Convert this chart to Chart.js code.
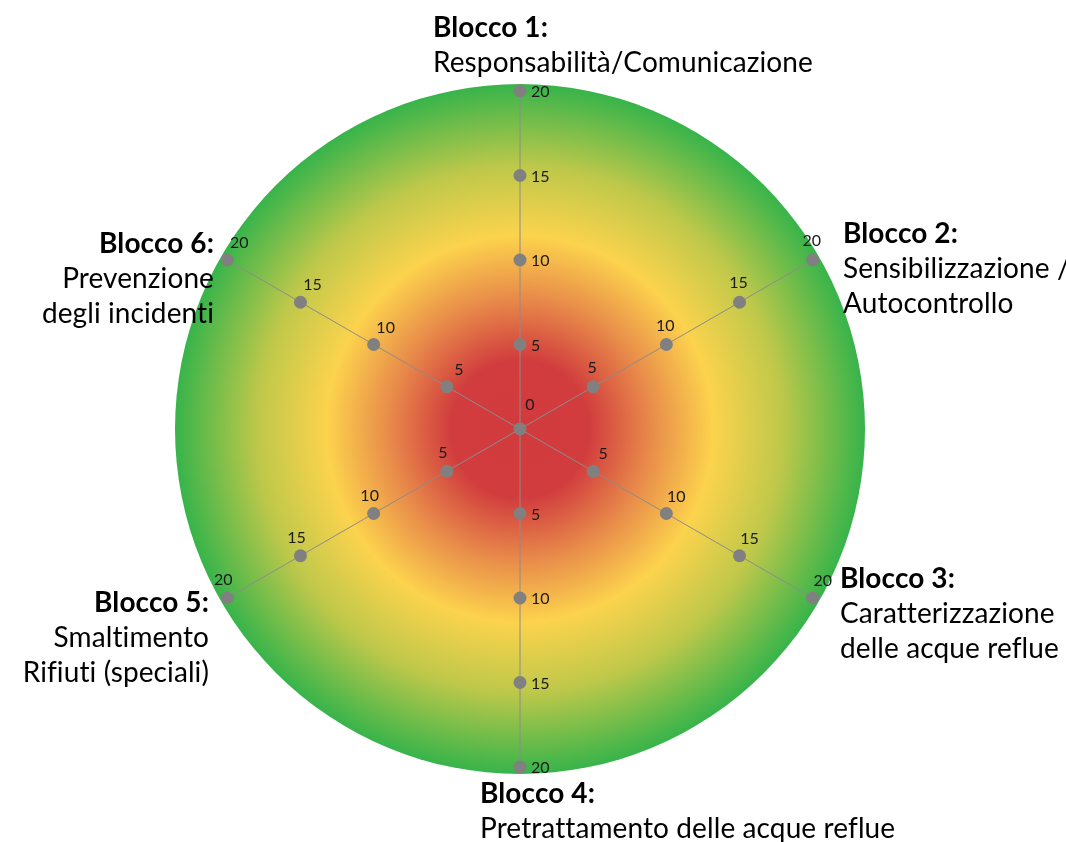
<!DOCTYPE html>
<html>
<head>
<meta charset="utf-8">
<script src="https://cdn.jsdelivr.net/npm/chart.js@4.4.1/dist/chart.umd.min.js"></script>
<style>
    body { margin: 0; background: #fff; overflow: hidden; }
    #wrap { width: 1066px; height: 842px; position: relative; }
</style>
</head>
<body>
<div id="wrap"><canvas id="radar"></canvas></div>
<script>
    // Axis titles (bold line) and descriptions
    var blockTitles = ["Blocco 1:", "Blocco 2:", "Blocco 3:", "Blocco 4:", "Blocco 5:", "Blocco 6:"];
    var blockDescriptions = [
        ["Responsabilità/Comunicazione"],
        ["Sensibilizzazione /", "Autocontrollo"],
        ["Caratterizzazione", "delle acque reflue"],
        ["Pretrattamento delle acque reflue"],
        ["Smaltimento", "Rifiuti (speciali)"],
        ["Prevenzione", "degli incidenti"]
    ];
    // Marker levels drawn on every axis
    var levels = [0, 5, 10, 15, 20];
    var scaleMin = 0;
    var scaleMax = 20;

    // one dataset per level; the 0 level is a single point in the centre
    var datasets = levels.map(function (v) {
        return {
            label: String(v),
            data: blockTitles.map(function (t, i) { return (v === 0 && i > 0) ? null : v; }),
            showLine: false,
            borderColor: "transparent",
            backgroundColor: "transparent",
            pointBackgroundColor: "#808080",
            pointBorderWidth: 0,
            pointRadius: 6.5,
            pointHoverRadius: 6.5
        };
    });

    // radial gradient disc behind everything
    var discPlugin = {
        id: "disc",
        beforeDraw: function (chart) {
            var s = chart.scales.r;
            var ctx = chart.ctx;
            var R = s.drawingArea + 7;
            var g = ctx.createRadialGradient(s.xCenter, s.yCenter, 0, s.xCenter, s.yCenter, R);
            g.addColorStop(0, "#d13b3e");
            g.addColorStop(0.2, "#d13c3e");
            g.addColorStop(0.38, "#e88b4a");
            g.addColorStop(0.56, "#fcd34d");
            g.addColorStop(0.76, "#bfc84a");
            g.addColorStop(1, "#37b44a");
            ctx.save();
            ctx.beginPath();
            ctx.arc(s.xCenter, s.yCenter, R, 0, Math.PI * 2);
            ctx.fillStyle = g;
            ctx.fill();
            ctx.restore();
        }
    };

    // value labels next to each marker
    var valueLabelPlugin = {
        id: "valueLabels",
        afterDatasetsDraw: function (chart, args, opts) {
            var ctx = chart.ctx;
            ctx.save();
            ctx.font = "16px Lato";
            ctx.fillStyle = "#1a1a1a";
            ctx.textBaseline = "middle";
            chart.data.datasets.forEach(function (ds, di) {
                var meta = chart.getDatasetMeta(di);
                meta.data.forEach(function (pt, i) {
                    var v = ds.data[i];
                    if (v === null || pt.skip) return;
                    var o = v === 0 ? opts.centre : opts.offsets[i];
                    ctx.textAlign = o.align;
                    ctx.fillText(String(v), pt.x + o.dx, pt.y + o.dy);
                });
            });
            ctx.restore();
        }
    };

    // axis titles placed round the disc
    var blockLabelPlugin = {
        id: "blockLabels",
        afterDraw: function (chart, args, opts) {
            var ctx = chart.ctx;
            ctx.save();
            ctx.fillStyle = "#000";
            ctx.textBaseline = "alphabetic";
            // tiny spacing keeps Lato from joining "ti" into a ligature
            if ("letterSpacing" in ctx) ctx.letterSpacing = "0.1px";
            blockTitles.forEach(function (title, i) {
                var a = opts.anchors[i];
                ctx.textAlign = a.align;
                ctx.font = "bold " + opts.size + "px Lato";
                ctx.fillText(title, a.x, a.y);
                ctx.font = opts.size + "px Lato";
                blockDescriptions[i].forEach(function (line, k) {
                    ctx.fillText(line, a.x, a.y + (k + 1) * opts.lineHeight);
                });
            });
            ctx.restore();
        }
    };

    var ctx = document.getElementById("radar").getContext("2d");
    var radarChart = new Chart(ctx, {
        type: "radar",
        data: {
            labels: blockTitles,
            datasets: datasets
        },
        options: {
            responsive: true,
            maintainAspectRatio: false,
            animation: false,
            layout: { padding: { left: 182, right: 208, top: 91, bottom: 75 } },
            scales: {
                r: {
                    min: scaleMin,
                    max: scaleMax,
                    ticks: { display: false, stepSize: 5 },
                    grid: { display: false },
                    angleLines: { display: true, color: "#8c8c8c", lineWidth: 1 },
                    pointLabels: { display: false }
                }
            },
            plugins: {
                legend: { display: false },
                tooltip: { enabled: false },
                valueLabels: {
                    centre: { dx: 10, dy: -24, align: "center" },
                    offsets: [
                        { dx: 11, dy: 1, align: "left" },
                        { dx: -1, dy: -19, align: "center" },
                        { dx: 10, dy: -17, align: "center" },
                        { dx: 11, dy: 1, align: "left" },
                        { dx: -4, dy: -18, align: "center" },
                        { dx: 12, dy: -17, align: "center" }
                    ]
                },
                blockLabels: {
                    size: 28,
                    lineHeight: 35,
                    anchors: [
                        { x: 433, y: 37, align: "left" },
                        { x: 843, y: 243, align: "left" },
                        { x: 840, y: 588, align: "left" },
                        { x: 480, y: 803, align: "left" },
                        { x: 209, y: 612, align: "right" },
                        { x: 214, y: 253, align: "right" }
                    ]
                }
            }
        },
        plugins: [discPlugin, valueLabelPlugin, blockLabelPlugin]
    });
</script>
</body>
</html>
